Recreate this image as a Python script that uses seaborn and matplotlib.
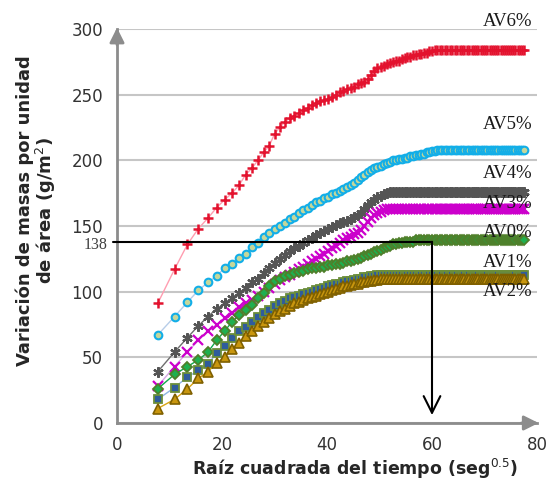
import numpy as np
import pandas as pd
import seaborn as sns
import matplotlib.pyplot as plt

# tiempo de ensayo (s), cada 60 s; el eje x es su raiz cuadrada
tiempo_s = np.arange(60, 6060, 60)
raiz_t = np.sqrt(tiempo_s)

av6 = [91, 117, 136, 148, 156, 164, 170, 175, 181, 189, 194, 200, 206, 211, 220, 225, 229, 232, 234, 236,
       238, 240, 242, 244, 245, 246, 247, 248, 250, 252, 253, 254, 255, 256, 258, 259, 260, 262, 265, 268,
       270, 271, 272, 273, 274, 275, 276, 276, 277, 278, 279, 279, 280, 280, 281, 281, 282, 282, 283, 283,
       284, 284, 284, 284, 284, 284, 284, 284, 284, 284, 284, 284, 284, 284, 284, 284, 284, 284, 284, 284,
       284, 284, 284, 284, 284, 284, 284, 284, 284, 284, 284, 284, 284, 284, 284, 284, 284, 284, 284, 284]
av5 = [67, 81, 92, 101, 107, 112, 118, 121, 126, 129, 134, 137, 142, 145, 148, 150, 152, 155, 157, 160,
       162, 164, 166, 168, 169, 171, 172, 174, 175, 177, 178, 180, 181, 183, 185, 187, 189, 191, 193, 194,
       195, 196, 197, 198, 199, 200, 200, 201, 201, 202, 202, 203, 203, 204, 204, 205, 205, 206, 206, 207,
       207, 208, 208, 208, 208, 208, 208, 208, 208, 208, 208, 208, 208, 208, 208, 208, 208, 208, 208, 208,
       208, 208, 208, 208, 208, 208, 208, 208, 208, 208, 208, 208, 208, 208, 208, 208, 208, 208, 208, 208]
av4 = [39, 54, 65, 74, 81, 87, 91, 95, 99, 103, 107, 110, 114, 118, 122, 125, 128, 131, 133, 135,
       137, 139, 141, 143, 145, 146, 148, 149, 151, 152, 153, 154, 155, 157, 158, 160, 163, 166, 168, 170,
       172, 173, 174, 175, 176, 176, 176, 176, 176, 176, 176, 176, 176, 176, 176, 176, 176, 176, 176, 176,
       176, 176, 176, 176, 176, 176, 176, 176, 176, 176, 176, 176, 176, 176, 176, 176, 176, 176, 176, 176,
       176, 176, 176, 176, 176, 176, 176, 176, 176, 176, 176, 176, 176, 176, 176, 176, 176, 176, 176, 176]
av3 = [28, 43, 54, 63, 70, 75, 80, 84, 88, 91, 94, 97, 100, 103, 106, 109, 111, 113, 115, 117,
       119, 121, 123, 125, 127, 129, 131, 133, 135, 137, 139, 141, 142, 144, 145, 147, 150, 153, 156, 158,
       160, 161, 162, 163, 163, 163, 163, 163, 163, 163, 163, 163, 163, 163, 163, 163, 163, 163, 163, 163,
       163, 163, 163, 163, 163, 163, 163, 163, 163, 163, 163, 163, 163, 163, 163, 163, 163, 163, 163, 163,
       163, 163, 163, 163, 163, 163, 163, 163, 163, 163, 163, 163, 163, 163, 163, 163, 163, 163, 163, 163]
av0 = [26, 37, 43, 48, 54, 63, 70, 77, 82, 86, 90, 95, 99, 104, 108, 110, 112, 113, 114, 115,
       116, 117, 118, 118, 119, 119, 120, 120, 121, 121, 122, 123, 123, 124, 125, 126, 127, 128, 129, 130,
       131, 132, 133, 134, 135, 136, 136, 137, 137, 138, 138, 138, 138, 139, 139, 139, 139, 139, 139, 139,
       139, 139, 139, 139, 139, 139, 139, 139, 139, 139, 139, 139, 139, 139, 139, 139, 139, 139, 139, 139,
       139, 139, 139, 139, 139, 139, 139, 139, 139, 139, 139, 139, 139, 139, 139, 139, 139, 139, 139, 139]
av1 = [18, 27, 35, 40, 45, 53, 59, 65, 70, 73, 77, 81, 84, 86, 89, 91, 93, 95, 96, 97,
       98, 99, 100, 101, 102, 103, 104, 105, 106, 106, 107, 108, 108, 109, 110, 110, 111, 111, 112, 112,
       113, 113, 113, 113, 113, 113, 113, 113, 113, 113, 113, 113, 113, 113, 113, 113, 113, 113, 113, 113,
       113, 113, 113, 113, 113, 113, 113, 113, 113, 113, 113, 113, 113, 113, 113, 113, 113, 113, 113, 113,
       113, 113, 113, 113, 113, 113, 113, 113, 113, 113, 113, 113, 113, 113, 113, 113, 113, 113, 113, 113]
av2 = [11, 18, 26, 34, 39, 46, 50, 56, 61, 66, 70, 74, 77, 80, 83, 85, 87, 89, 91, 92,
       94, 95, 96, 97, 98, 99, 100, 101, 102, 103, 104, 104, 105, 106, 106, 107, 107, 108, 108, 109,
       109, 110, 110, 110, 110, 110, 110, 110, 110, 110, 110, 110, 110, 110, 110, 110, 110, 110, 110, 110,
       110, 110, 110, 110, 110, 110, 110, 110, 110, 110, 110, 110, 110, 110, 110, 110, 110, 110, 110, 110,
       110, 110, 110, 110, 110, 110, 110, 110, 110, 110, 110, 110, 110, 110, 110, 110, 110, 110, 110, 110]

series_names = ["AV6%", "AV5%", "AV4%", "AV3%", "AV0%", "AV1%", "AV2%"]
series_vals = [av6, av5, av4, av3, av0, av1, av2]
label_y = [306, 227, 190, 167, 145, 122, 100]
referencia_y = 138
referencia_x = 60

# estilo de cada serie: (linea, marcador, relleno, borde, tamano, grosor borde)
styles = {
    "AV6%": ("#FF9DB0", "+", "#E3122E", "#E3122E", 7, 1.8),
    "AV5%": ("#B7CDE8", "o", "#C4D79B", "#12AEE8", 5.5, 1.5),
    "AV4%": ("#6E6E6E", (6, 2, 0), "#555555", "#555555", 7.5, 1.6),
    "AV3%": ("#D6A6E6", "x", "#CC00CC", "#CC00CC", 7.5, 1.6),
    "AV0%": ("#12A84A", "D", "#1FAF4F", "#4F7F2A", 5, 1.3),
    "AV1%": ("#8EB4E3", "s", "#2F5C9C", "#6B8E3A", 5.5, 1.3),
    "AV2%": ("#D9A514", "^", "#C9960E", "#7F6000", 6.5, 1.2),
}

sns.set_style("white")
plt.rcParams['font.family'] = ['DejaVu Sans']

fig = plt.figure(figsize=(5.56, 4.88), dpi=100)
ax = fig.add_axes([117 / 556, 65 / 488, 420 / 556, 394 / 488])

for name, vals in zip(series_names, series_vals):
    lc, mk, mfc, mec, ms, mew = styles[name]
    df = pd.DataFrame({"x": raiz_t, "y": vals})
    sns.lineplot(data=df, x="x", y="y", ax=ax, color=lc, linewidth=1.0,
                 marker=mk, markersize=ms, markerfacecolor=mfc,
                 markeredgecolor=mec, markeredgewidth=mew,
                 estimator=None, sort=False, legend=False, clip_on=False)

ax.set_xlim(0, 80)
ax.set_ylim(0, 300)
ax.set_xticks([0, 20, 40, 60, 80])
ax.set_yticks([0, 50, 100, 150, 200, 250, 300])
ax.yaxis.grid(True, color="#C6C6C6", linewidth=1.5)
ax.xaxis.grid(False)
ax.set_axisbelow(True)

for s in ["top", "right"]:
    ax.spines[s].set_visible(False)
for s in ["left", "bottom"]:
    ax.spines[s].set_color("#8C8C8C")
    ax.spines[s].set_linewidth(2)
ax.tick_params(axis="y", direction="out", length=4, width=1.5, color="#8C8C8C",
               labelsize=12, labelcolor="#333333", pad=6)
ax.tick_params(axis="x", direction="out", length=5, width=1.5, color="#8C8C8C",
               labelsize=12, labelcolor="#333333", pad=4)

# flechas de los ejes
ax.annotate("", xy=(0, 301), xytext=(0, 288),
            arrowprops=dict(arrowstyle="-|>", color="#8C8C8C", lw=2, mutation_scale=22,
                            shrinkA=0, shrinkB=0), annotation_clip=False)
ax.annotate("", xy=(80.3, 0), xytext=(77, 0),
            arrowprops=dict(arrowstyle="-|>", color="#8C8C8C", lw=2, mutation_scale=22,
                            shrinkA=0, shrinkB=0), annotation_clip=False)

# linea de referencia en 138 y flecha hacia el eje x
ax.plot([-0.8, referencia_x], [referencia_y, referencia_y], color="black", lw=1.5, clip_on=False, zorder=5)
ax.annotate("", xy=(referencia_x, 6), xytext=(referencia_x, referencia_y),
            arrowprops=dict(arrowstyle="->", color="black", lw=1.5, mutation_scale=30,
                            shrinkA=0, shrinkB=0), zorder=5)
ax.text(-1.9, referencia_y - 2.5, str(referencia_y), ha="right", va="center", fontsize=11.5,
        family="Liberation Serif", color="#404040")

for name, y in zip(series_names, label_y):
    ax.text(79.2, y, name, ha="right", va="center", fontsize=13.5,
            family="Liberation Serif", color="#1A1A1A", clip_on=False)

ax.set_xlabel("Raíz cuadrada del tiempo (seg$^{0.5}$)", fontsize=12.5, fontweight="bold")
ax.xaxis.set_label_coords(0.567, -0.085)
ax.set_ylabel("Variación de masas por unidad\nde área (g/m$^2$)", fontsize=13,
              fontweight="bold", linespacing=1.0)
ax.yaxis.set_label_coords(-0.14, 0.54)

fig.savefig("out.png", dpi=100, facecolor="white")
